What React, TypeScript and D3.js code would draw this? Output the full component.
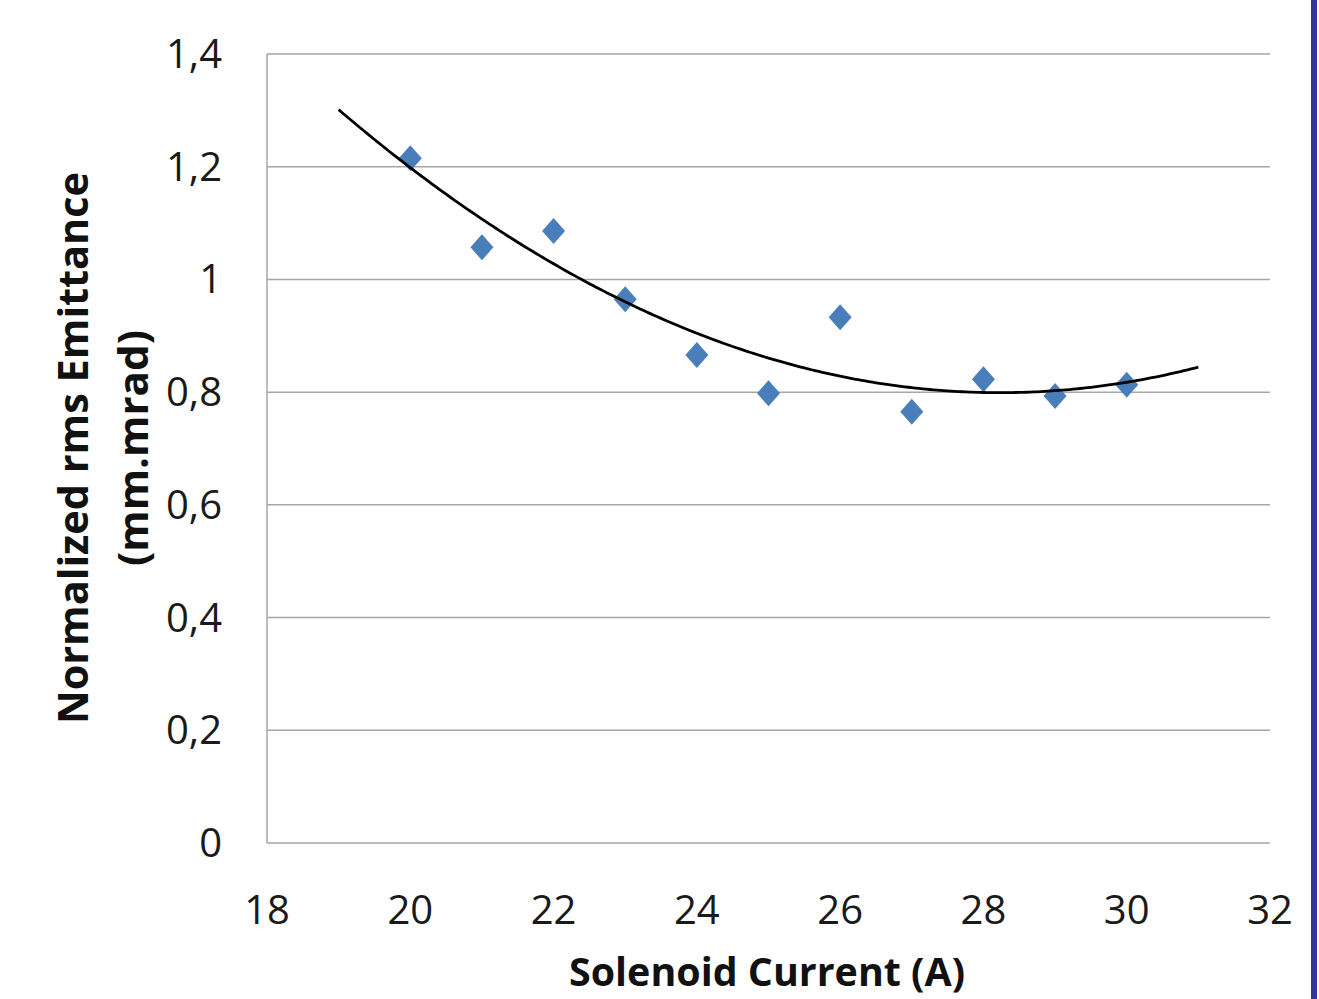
import React from "react";
import * as d3 from "d3";

const currents = [20, 21, 22, 23, 24, 25, 26, 27, 28, 29, 30];
const emittance = [1.215, 1.057, 1.086, 0.965, 0.866, 0.798, 0.933, 0.765, 0.823, 0.793, 0.813];
const xTicks = [18, 20, 22, 24, 26, 28, 30, 32];
const yTicks = [0, 0.2, 0.4, 0.6, 0.8, 1, 1.2, 1.4];
const trendRange = [19, 31];

// Excel-style 2nd-order polynomial trendline, least squares from the data
function polyFit2(xs: number[], ys: number[]) {
  const n = xs.length;
  let s1 = 0, s2 = 0, s3 = 0, s4 = 0, t0 = 0, t1 = 0, t2 = 0;
  for (let i = 0; i < n; i++) {
    const x = xs[i], y = ys[i];
    s1 += x; s2 += x * x; s3 += x * x * x; s4 += x * x * x * x;
    t0 += y; t1 += x * y; t2 += x * x * y;
  }
  const M = [
    [n, s1, s2, t0],
    [s1, s2, s3, t1],
    [s2, s3, s4, t2],
  ];
  for (let i = 0; i < 3; i++) {
    for (let j = i + 1; j < 3; j++) {
      const f = M[j][i] / M[i][i];
      for (let k = i; k < 4; k++) M[j][k] -= f * M[i][k];
    }
  }
  const c = [0, 0, 0];
  for (let i = 2; i >= 0; i--) {
    let s = M[i][3];
    for (let k = i + 1; k < 3; k++) s -= M[i][k] * c[k];
    c[i] = s / M[i][i];
  }
  return (x: number) => c[0] + c[1] * x + c[2] * x * x;
}

export default function App() {
  const W = 1319, H = 999;
  const left = 267, right = 1270, top = 54, bottom = 843;
  const x = d3.scaleLinear().domain([18, 32]).range([left, right]);
  const y = d3.scaleLinear().domain([0, 1.4]).range([bottom, top]);
  const f = polyFit2(currents, emittance);
  const trendPts = d3.range(trendRange[0], trendRange[1] + 0.0001, 0.05).map((v) => [v, f(v)] as [number, number]);
  const line = d3.line<[number, number]>().x((d) => x(d[0])).y((d) => y(d[1]));
  const fmt = (v: number) => String(+v.toFixed(1)).replace(".", ",");
  const font = "'Open Sans', 'DejaVu Sans', sans-serif";

  return (
    <div style={{ position: "absolute", left: 0, top: 0, width: W, height: H, background: "#fff" }}>
      <svg width={W} height={H} style={{ display: "block" }}>
        <rect x={0} y={0} width={W} height={H} fill="#ffffff" />
        {yTicks.map((t) => (
          <line key={"g" + t} x1={left} x2={right} y1={y(t)} y2={y(t)} stroke="#a6a6a6" strokeWidth={1.5} />
        ))}
        <line x1={left} x2={left} y1={top} y2={bottom} stroke="#a6a6a6" strokeWidth={1.5} />
        {yTicks.map((t) => (
          <text key={"yt" + t} x={222} y={y(t) + 14} textAnchor="end" fontFamily={font} fontSize={40} fill="#1a1a1a">
            {fmt(t)}
          </text>
        ))}
        {xTicks.map((t) => (
          <text key={"xt" + t} x={x(t)} y={924} textAnchor="middle" fontFamily={font} fontSize={40} fill="#1a1a1a">
            {t}
          </text>
        ))}
        {currents.map((c, i) => {
          const cx = x(c), cy = y(emittance[i]);
          return (
            <path
              key={"p" + c}
              d={`M${cx},${cy - 13}L${cx + 11.5},${cy}L${cx},${cy + 13}L${cx - 11.5},${cy}Z`}
              fill="#4a7ebb"
            />
          );
        })}
        <path d={line(trendPts) || ""} fill="none" stroke="#000" strokeWidth={2.8} />
        <text
          x={767}
          y={986}
          textAnchor="middle"
          fontFamily={font}
          fontWeight="bold"
          fontSize={40}
          fill="#111"
          textLength={396}
          lengthAdjust="spacingAndGlyphs"
        >
          Solenoid Current (A)
        </text>
        <g transform="translate(88,448) rotate(-90)">
          <text x={0} y={0} textAnchor="middle" fontFamily={font} fontWeight="bold" fontSize={42} fill="#111" textLength={552} lengthAdjust="spacingAndGlyphs">
            Normalized rms Emittance
          </text>
        </g>
        <g transform="translate(148,448) rotate(-90)">
          <text x={0} y={0} textAnchor="middle" fontFamily={font} fontWeight="bold" fontSize={42} fill="#111" textLength={236} lengthAdjust="spacingAndGlyphs">
            (mm.mrad)
          </text>
        </g>
        <rect x={1311} y={0} width={6} height={H} fill="#35359a" />
      </svg>
    </div>
  );
}
